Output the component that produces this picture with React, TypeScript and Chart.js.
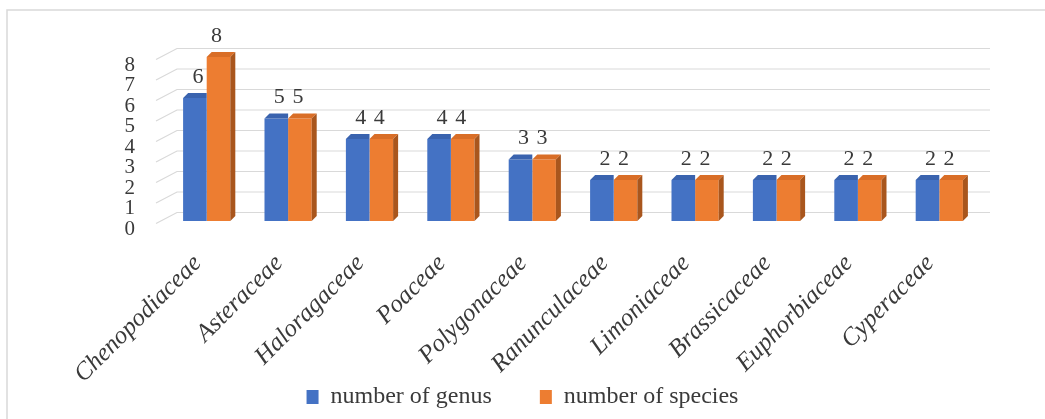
import React, { useEffect, useRef } from "react";
import { Chart, registerables } from "chart.js";

Chart.register(...registerables);

const categories = [
  "Chenopodiaceae",
  "Asteraceae",
  "Haloragaceae",
  "Poaceae",
  "Polygonaceae",
  "Ranunculaceae",
  "Limoniaceae",
  "Brassicaceae",
  "Euphorbiaceae",
  "Cyperaceae",
];
const genusValues = [6, 5, 4, 4, 3, 2, 2, 2, 2, 2];
const speciesValues = [8, 5, 4, 4, 3, 2, 2, 2, 2, 2];
const yTicks = [0, 1, 2, 3, 4, 5, 6, 7, 8];

const BLUE = "#4472C4";
const ORANGE = "#ED7D31";
const BLUE_TOP = "#3A63AE";
const ORANGE_TOP = "#D96E27";
const ORANGE_SIDE = "#A9561D";
const TEXT = "#3a3a3a";
const SERIF = "'Liberation Serif', 'Times New Roman', serif";
const DEPTH = 5;
const BACK_SHIFT = 8.5;

const framePlugin = {
  id: "frame",
  beforeDraw(chart: any) {
    const { ctx, width, height } = chart;
    ctx.save();
    ctx.fillStyle = "#ffffff";
    ctx.fillRect(0, 0, width, height);
    ctx.strokeStyle = "#d9d9d9";
    ctx.lineWidth = 1.5;
    ctx.beginPath();
    ctx.moveTo(7, height);
    ctx.lineTo(7, 10);
    ctx.lineTo(width, 10);
    ctx.stroke();
    ctx.restore();
  },
};

const gridPlugin = {
  id: "grid3d",
  beforeDatasetsDraw(chart: any) {
    const { ctx, chartArea, scales } = chart;
    const y = scales.y;
    ctx.save();
    ctx.strokeStyle = "#d9d9d9";
    ctx.lineWidth = 1.2;
    yTicks.forEach((v) => {
      const yb = y.getPixelForValue(v) - BACK_SHIFT;
      ctx.beginPath();
      ctx.moveTo(chartArea.left - 10, yb + 11);
      ctx.lineTo(chartArea.left + 11, yb);
      ctx.lineTo(chartArea.right + 10, yb);
      ctx.stroke();
    });
    ctx.restore();
  },
};

const bar3dPlugin = {
  id: "bar3d",
  afterDatasetsDraw(chart: any) {
    const { ctx } = chart;
    ctx.save();
    chart.data.datasets.forEach((ds: any, di: number) => {
      const meta = chart.getDatasetMeta(di);
      meta.data.forEach((bar: any) => {
        const { x, y, base, width } = bar.getProps(["x", "y", "base", "width"], true);
        const l = x - width / 2;
        const r = x + width / 2;
        const d = DEPTH;
        ctx.fillStyle = di === 0 ? BLUE_TOP : ORANGE_TOP;
        ctx.beginPath();
        ctx.moveTo(l, y);
        ctx.lineTo(l + d, y - d);
        ctx.lineTo(di === 0 ? r : r + d, y - d);
        ctx.lineTo(r, y);
        ctx.closePath();
        ctx.fill();
        if (di === chart.data.datasets.length - 1) {
          ctx.fillStyle = ORANGE_SIDE;
          ctx.beginPath();
          ctx.moveTo(r, y);
          ctx.lineTo(r + d, y - d);
          ctx.lineTo(r + d, base - d);
          ctx.lineTo(r, base);
          ctx.closePath();
          ctx.fill();
        }
      });
    });
    ctx.restore();
  },
};

const labelPlugin = {
  id: "valueLabels",
  afterDatasetsDraw(chart: any) {
    const { ctx } = chart;
    ctx.save();
    ctx.font = `22px ${SERIF}`;
    ctx.fillStyle = TEXT;
    ctx.textAlign = "center";
    ctx.textBaseline = "middle";
    chart.data.datasets.forEach((ds: any, di: number) => {
      const meta = chart.getDatasetMeta(di);
      meta.data.forEach((bar: any, i: number) => {
        const { x, y } = bar.getProps(["x", "y"], true);
        const shift = di === 0 ? 3 : -2;
        ctx.fillText(String(ds.data[i]), x + shift, y - 21);
      });
    });
    ctx.restore();
  },
};

export default function App() {
  const ref = useRef<HTMLCanvasElement | null>(null);

  useEffect(() => {
    if (!ref.current) return;
    const chart = new Chart(ref.current, {
      type: "bar",
      data: {
        labels: categories,
        datasets: [
          {
            label: "number of genus",
            data: genusValues,
            backgroundColor: BLUE,
            borderWidth: 0,
          },
          {
            label: "number of species",
            data: speciesValues,
            backgroundColor: ORANGE,
            borderWidth: 0,
          },
        ],
      },
      options: {
        animation: false,
        responsive: true,
        maintainAspectRatio: false,
        layout: { padding: { top: 57, left: 0, right: 0, bottom: 0 } },
        datasets: {
          bar: { categoryPercentage: 0.58, barPercentage: 1 },
        },
        plugins: {
          legend: {
            position: "bottom",
            labels: {
              font: { family: SERIF, size: 24 },
              color: TEXT,
              boxWidth: 12,
              boxHeight: 14,
              padding: 48,
            },
          },
          tooltip: { enabled: false },
        },
        scales: {
          x: {
            grid: { display: false, drawTicks: false },
            border: { display: false },
            ticks: {
              font: { family: SERIF, size: 25, style: "italic" },
              color: TEXT,
              minRotation: 45,
              maxRotation: 45,
              autoSkip: false,
              padding: 28,
              labelOffset: -9,
            },
            afterFit(scale: any) {
              scale.height = 198 - (24 + 48 + 10);
              scale._computeLabelArea = () => undefined;
            },
          },
          y: {
            min: 0,
            max: 8,
            grid: { display: false, drawTicks: false },
            border: { display: false },
            ticks: {
              stepSize: 1,
              autoSkip: false,
              font: { family: SERIF, size: 21 },
              color: TEXT,
              padding: 31,
              labelOffset: 8,
            },
            afterFit(scale: any) {
              scale.width = 166;
            },
          },
          yR: {
            position: "right",
            display: true,
            grid: { display: false, drawTicks: false },
            border: { display: false },
            ticks: { display: false },
            afterFit(scale: any) {
              scale.width = 65;
            },
          },
        },
      },
      plugins: [framePlugin, gridPlugin, bar3dPlugin, labelPlugin],
    });
    return () => chart.destroy();
  }, []);

  return (
    <div style={{ position: "absolute", left: 0, top: 0, width: 1045, height: 419 }}>
      <canvas ref={ref} />
    </div>
  );
}
